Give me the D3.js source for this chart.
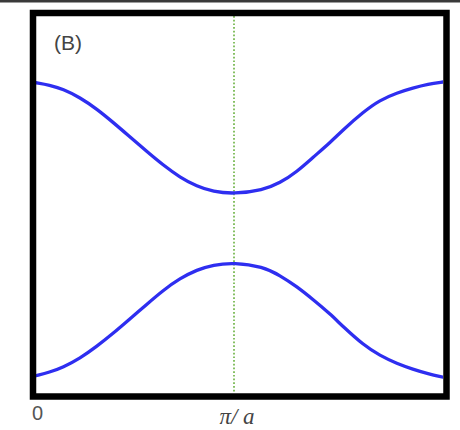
<!DOCTYPE html>
<html>
<head>
<meta charset="utf-8">
<script src="https://cdn.jsdelivr.net/npm/d3@7"></script>
<style>
  html, body { margin: 0; padding: 0; background: #fff; }
  svg { display: block; }
</style>
</head>
<body>
<svg id="chart" width="460" height="430"></svg>
<script>
// k in units of pi/a ; energy in arbitrary units
const kValues = [0, 0.068, 0.136, 0.222, 0.308, 0.389, 0.460, 0.561, 0.641, 0.727, 0.813, 0.894, 1.0,
                 1.146, 1.232, 1.318, 1.399, 1.485, 1.551, 1.652, 1.737, 1.823, 1.904, 1.980, 2.056];
const upperBand = [8.23, 8.17, 8.06, 7.84, 7.53, 7.18, 6.86, 6.40, 6.05, 5.72, 5.48, 5.34, 5.28,
                   5.38, 5.57, 5.87, 6.25, 6.64, 6.98, 7.45, 7.77, 7.96, 8.09, 8.19, 8.25];
const lowerBand = [0.46, 0.55, 0.68, 0.92, 1.24, 1.58, 1.90, 2.36, 2.72, 3.04, 3.27, 3.40, 3.46,
                   3.35, 3.12, 2.82, 2.48, 2.10, 1.76, 1.28, 0.99, 0.78, 0.63, 0.51, 0.42];
const tickLabels = ["0", "π/ a"];
const panelLabel = "(B)";

const svg = d3.select("#chart");

// top dark strip
svg.append("rect").attr("x", 0).attr("y", 0).attr("width", 460).attr("height", 2.5).attr("fill", "#3a3a3a");

const inner = { left: 36, right: 443, top: 16, bottom: 393 };
const x = d3.scaleLinear().domain([0, 1]).range([inner.left, 234]);
const y = d3.scaleLinear().domain([0, 10]).range([inner.bottom, inner.top]);

svg.append("defs").append("clipPath").attr("id", "clip")
  .append("rect").attr("x", inner.left).attr("y", inner.top)
  .attr("width", inner.right - inner.left).attr("height", inner.bottom - inner.top);

// dotted center line at pi/a
svg.append("line")
  .attr("x1", x(1)).attr("x2", x(1))
  .attr("y1", inner.top).attr("y2", inner.bottom)
  .attr("stroke", "#86c064").attr("stroke-width", 2)
  .attr("stroke-dasharray", "1.7,2.0");

const line = d3.line().x((d, i) => x(kValues[i])).y(d => y(d)).curve(d3.curveBasis);

const g = svg.append("g").attr("clip-path", "url(#clip)");
[upperBand, lowerBand].forEach(band => {
  g.append("path").datum(band)
    .attr("d", line)
    .attr("fill", "none")
    .attr("stroke", "#2e2ef0")
    .attr("stroke-width", 3.3)
    .attr("stroke-linecap", "round");
});

// frame
svg.append("rect")
  .attr("x", 33).attr("y", 13)
  .attr("width", 413.5).attr("height", 383.5)
  .attr("fill", "none").attr("stroke", "#000").attr("stroke-width", 6.5);

// labels
svg.append("text").attr("x", 54).attr("y", 50)
  .attr("font-family", "Liberation Sans, Arial, sans-serif").attr("font-size", 21)
  .attr("fill", "#444").text(panelLabel);

svg.append("text").attr("x", 32).attr("y", 420)
  .attr("font-family", "Liberation Sans, Arial, sans-serif").attr("font-size", 20)
  .attr("fill", "#555").text(tickLabels[0]);

svg.append("text").attr("x", 237).attr("y", 424)
  .attr("text-anchor", "middle")
  .attr("font-family", "Liberation Serif, Times New Roman, serif").attr("font-size", 23)
  .attr("font-style", "italic")
  .attr("fill", "#444").text(tickLabels[1]);
</script>
</body>
</html>
